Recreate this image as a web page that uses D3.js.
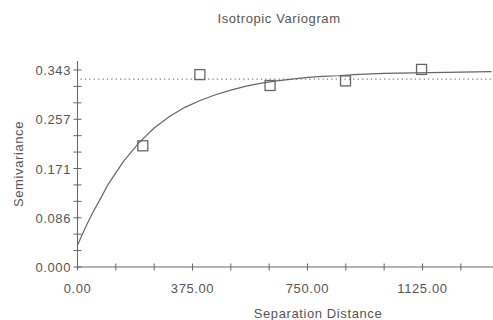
<!DOCTYPE html>
<html>
<head>
<meta charset="utf-8">
<script src="https://cdn.jsdelivr.net/npm/d3@7"></script>
<style>
  body { margin: 0; background: #fff; }
  text { font-family: "Liberation Sans", Arial, sans-serif; fill: #555; }
</style>
</head>
<body>
<div class="holder"></div>
<script>
const wd = 493
const ht = 320

// experimental semivariance points (lag distance, value)
const lagDist = [213, 399, 628, 874, 1122]
const lagGamma = [0.211, 0.335, 0.316, 0.324, 0.344]

// fitted model curve
const modelDist = [0, 25, 50, 75, 100, 150, 200, 250, 300, 350, 400, 450, 500, 550, 600, 650, 700, 750, 800, 850, 900, 1000, 1100, 1200, 1350]
const modelGamma = [0.038, 0.068, 0.095, 0.119, 0.144, 0.184, 0.216, 0.242, 0.262, 0.278, 0.290, 0.300, 0.308, 0.315, 0.320, 0.324, 0.327, 0.330, 0.332, 0.333, 0.335, 0.337, 0.338, 0.339, 0.340]

const sill = 0.327

const yTickVals = [0, 0.08575, 0.1715, 0.25725, 0.343]
const yTickLabels = ["0.000", "0.086", "0.171", "0.257", "0.343"]
const xTickVals = [0, 375, 750, 1125]
const xTickLabels = ["0.00", "375.00", "750.00", "1125.00"]

const svg = d3.select(".holder").append("svg")
  .attr("width", wd)
  .attr("height", ht)

const x = d3.scaleLinear().domain([0, 1355]).range([77.5, 493])
const y = d3.scaleLinear().domain([0, 0.343]).range([267, 70])

const axisCol = "#666"

// axes lines
svg.append("line")
  .attr("x1", x(0)).attr("x2", wd)
  .attr("y1", y(0)).attr("y2", y(0))
  .style("stroke", axisCol)
svg.append("line")
  .attr("x1", x(0)).attr("x2", x(0))
  .attr("y1", y(0)).attr("y2", 61)
  .style("stroke", axisCol)

// minor + major ticks (cross the axis)
const xMinor = d3.range(0, 1351, 125)
svg.append("g").selectAll("line")
  .data(xMinor)
  .enter().append("line")
  .attr("x1", d => x(d)).attr("x2", d => x(d))
  .attr("y1", y(0) - 3.5).attr("y2", y(0) + 3.5)
  .style("stroke", axisCol)

const yMinor = d3.range(0, 13).map(i => 0.343 * i / 12)
svg.append("g").selectAll("line")
  .data(yMinor)
  .enter().append("line")
  .attr("x1", x(0) - 4).attr("x2", x(0) + 4)
  .attr("y1", d => y(d)).attr("y2", d => y(d))
  .style("stroke", axisCol)

// tick labels
svg.append("g").selectAll("text")
  .data(xTickVals)
  .enter().append("text")
  .attr("x", d => x(d))
  .attr("y", 293)
  .attr("text-anchor", "middle")
  .style("font-size", "13px")
  .style("letter-spacing", "0.6px")
  .text((d, i) => xTickLabels[i])

svg.append("g").selectAll("text")
  .data(yTickVals)
  .enter().append("text")
  .attr("x", 71)
  .attr("y", d => y(d) + 5)
  .attr("text-anchor", "end")
  .style("font-size", "13px")
  .style("letter-spacing", "0.6px")
  .text((d, i) => yTickLabels[i])

// titles
svg.append("text")
  .attr("x", 279).attr("y", 23)
  .attr("text-anchor", "middle")
  .style("font-size", "13px")
  .style("letter-spacing", "0.6px")
  .text("Isotropic Variogram")

svg.append("text")
  .attr("x", 318).attr("y", 318)
  .attr("text-anchor", "middle")
  .style("font-size", "13px")
  .style("letter-spacing", "0.6px")
  .text("Separation Distance")

svg.append("text")
  .attr("transform", "translate(23,164) rotate(-90)")
  .attr("text-anchor", "middle")
  .style("font-size", "13px")
  .style("letter-spacing", "0.6px")
  .text("Semivariance")

// sill (dotted)
svg.append("line")
  .attr("x1", x(0) + 3).attr("x2", wd)
  .attr("y1", y(sill)).attr("y2", y(sill))
  .style("stroke", "#777")
  .style("stroke-width", "1.2px")
  .style("stroke-dasharray", "1.2,3.2")

// model curve
const lineFunc = d3.line()
  .x(d => x(d[0]))
  .y(d => y(d[1]))

svg.append("path")
  .attr("d", lineFunc(d3.zip(modelDist, modelGamma)))
  .attr("fill", "none")
  .style("stroke", "#666")
  .style("stroke-width", "1.2px")

// experimental points
svg.append("g").selectAll("rect")
  .data(d3.zip(lagDist, lagGamma))
  .enter().append("rect")
  .attr("x", d => x(d[0]) - 5)
  .attr("y", d => y(d[1]) - 5)
  .attr("width", 10)
  .attr("height", 10)
  .attr("fill", "none")
  .style("stroke", "#666")
  .style("stroke-width", "1.3px")
</script>
</body>
</html>
